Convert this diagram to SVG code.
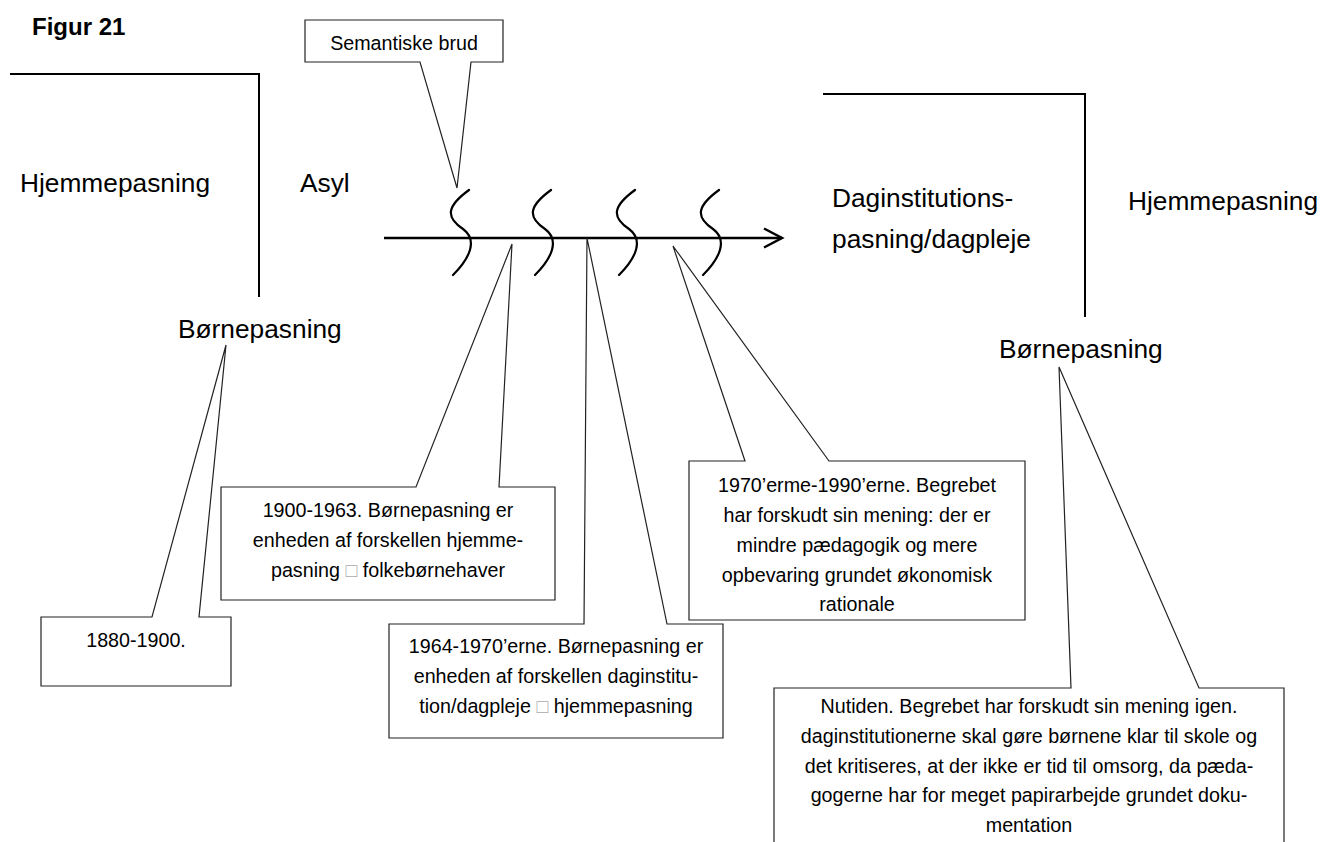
<svg xmlns="http://www.w3.org/2000/svg" width="1322" height="842" viewBox="0 0 1322 842">
<style>
text{font-family:"Liberation Sans",Arial,sans-serif;fill:#000}
.big{font-size:26.3px}
.sm{font-size:19.7px;text-anchor:middle}
.title{font-size:24px;font-weight:bold}
.call{fill:#fff;stroke:#222;stroke-width:1.2}
.brk{fill:none;stroke:#000;stroke-width:2}
.brkS{fill:none;stroke:#000;stroke-width:2.2;stroke-linecap:round}
.tofu{fill:#aaa}
</style>
<defs>
<marker id="open" markerWidth="26" markerHeight="26" refX="20" refY="11" orient="auto" markerUnits="userSpaceOnUse">
<path d="M2,1.5 L20,11 L2,20.5" fill="none" stroke="#000" stroke-width="2.5"/>
</marker>
<path id="sbreak" d="M0,0 C-22,16 -24,27 -6,39 C9,50 1,68 -16,85"/>
</defs>
<rect width="1322" height="842" fill="#fff"/>

<g id="title"><text class="title" x="32" y="35">Figur 21</text></g>

<g id="left-bracket">
<path class="brk" d="M10,74 H259 V297"/>
<text class="big" x="20" y="192">Hjemmepasning</text>
<text class="big" x="300" y="192">Asyl</text>
<text class="big" x="178" y="338">Børnepasning</text>
</g>

<g id="right-bracket">
<path class="brk" d="M823,94 H1085 V317"/>
<text class="big" x="832" y="207">Daginstitutions-</text>
<text class="big" x="832" y="248">pasning/dagpleje</text>
<text class="big" x="1128" y="210">Hjemmepasning</text>
<text class="big" x="999" y="358">Børnepasning</text>
</g>

<g id="connectors">
<line x1="384" y1="238" x2="782" y2="238" stroke="#000" stroke-width="2.5" marker-end="url(#open)"/>
<g class="brkS">
<use href="#sbreak" x="469" y="190"/>
<use href="#sbreak" x="551" y="190"/>
<use href="#sbreak" x="635" y="190"/>
<use href="#sbreak" x="719" y="190"/>
</g>
</g>

<g id="semantiske-brud">
<path class="call" d="M305,20 H503 V62 H471 L457,188 L420,62 H305 Z"/>
<text class="sm" x="404" y="50">Semantiske brud</text>
</g>

<g id="c1880">
<path class="call" d="M41,617 H152 L226,345 L199,617 H231 V686 H41 Z"/>
<text class="sm" x="136" y="647">1880-1900.</text>
</g>

<g id="c1900">
<path class="call" d="M221,487 H416 L512,244 L499,487 H555 V600 H221 Z"/>
<text class="sm" x="388" y="517">1900-1963. Børnepasning er</text>
<text class="sm" x="388" y="547">enheden af forskellen hjemme-</text>
<text class="sm" x="388" y="577">pasning <tspan class="tofu">□</tspan> folkebørnehaver</text>
</g>

<g id="c1964">
<path class="call" d="M389,624 H584 L587,238 L667,624 H723 V738 H389 Z"/>
<text class="sm" x="556" y="653">1964-1970’erne. Børnepasning er</text>
<text class="sm" x="556" y="683">enheden af forskellen daginstitu-</text>
<text class="sm" x="556" y="713">tion/dagpleje <tspan class="tofu">□</tspan> hjemmepasning</text>
</g>

<g id="c1970">
<path class="call" d="M689,461 H745 L673,246 L829,461 H1025 V620 H689 Z"/>
<text class="sm" x="857" y="492">1970’erme-1990’erne. Begrebet</text>
<text class="sm" x="857" y="522">har forskudt sin mening: der er</text>
<text class="sm" x="857" y="552">mindre pædagogik og mere</text>
<text class="sm" x="857" y="582">opbevaring grundet økonomisk</text>
<text class="sm" x="857" y="611">rationale</text>
</g>

<g id="cNutiden">
<path class="call" d="M774,688 H1071 L1059,367 L1199,688 H1284 V860 H774 Z"/>
<text class="sm" x="1029" y="713">Nutiden. Begrebet har forskudt sin mening igen.</text>
<text class="sm" x="1029" y="743">daginstitutionerne skal gøre børnene klar til skole og</text>
<text class="sm" x="1029" y="773">det kritiseres, at der ikke er tid til omsorg, da pæda-</text>
<text class="sm" x="1029" y="802">gogerne har for meget papirarbejde grundet doku-</text>
<text class="sm" x="1029" y="832">mentation</text>
</g>
</svg>
